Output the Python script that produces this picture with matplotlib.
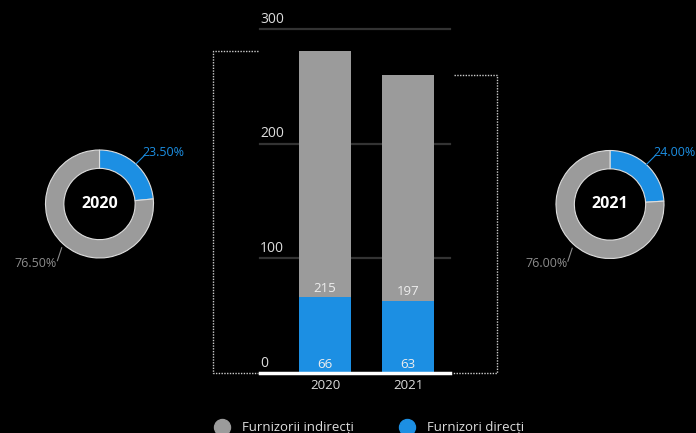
import matplotlib.pyplot as plt
import matplotlib.transforms as mtransforms
from matplotlib.lines import Line2D

plt.rcParams['font.family'] = ['Open Sans', 'DejaVu Sans']

years = ['2020', '2021']
direct = [66, 63]
indirect = [215, 197]
share_direct = [23.50, 24.00]
share_indirect = [76.50, 76.00]
y_ticks = [0, 100, 200, 300]
series_names = ['Furnizorii indirecți', 'Furnizori direcți']

BLUE = '#1c8fe3'
GREY = '#9b9b9b'
TEXT = '#dddddd'

W, H = 696, 433
fig = plt.figure(figsize=(W / 100, H / 100), dpi=100, facecolor='black')


def px_box(x0, y0, x1, y1):
    # pixel box (top-left origin) -> figure fraction rect
    return [x0 / W, 1 - y1 / H, (x1 - x0) / W, (y1 - y0) / H]


# stacked bars
ax = fig.add_axes(px_box(260, 29, 450, 373))
ax.set_facecolor('black')
xs = range(len(years))
ax.bar(xs, direct, width=0.627, color=BLUE, zorder=3)
ax.bar(xs, indirect, bottom=direct, width=0.627, color=GREY, zorder=3)
ax.set_xlim(-0.783, 1.506)
ax.set_ylim(0, 300)
for s in ax.spines.values():
    s.set_visible(False)
ax.set_yticks([])
ax.set_xticks(list(xs))
ax.set_xticklabels(years, color=TEXT, fontsize=9.5)
ax.tick_params(axis='x', length=0, pad=4)

for v in y_ticks:
    if v == 0:
        ax.axhline(v, color='white', lw=2.5, zorder=4, clip_on=False)
    else:
        ax.axhline(v, color='#333333', lw=1.6, zorder=1, clip_on=False)
    ax.text(-0.783, v + 2, str(v), color=TEXT, fontsize=10, ha='left', va='bottom')

for i in xs:
    ax.text(i, 2, str(direct[i]), color='#eeeeee', fontsize=9.5, ha='center', va='bottom', zorder=5)
    ax.text(i, direct[i] + 2, str(indirect[i]), color='#eeeeee', fontsize=9.5,
            ha='center', va='bottom', zorder=5)

# dotted brackets tying each bar total to its donut
trans = mtransforms.blended_transform_factory(ax.transAxes, ax.transData)
tot = [d + n for d, n in zip(direct, indirect)]
ax.plot([-0.0105, -0.247, -0.247, -0.0105], [tot[0], tot[0], 0, 0], transform=trans,
        color='#cccccc', ls=(0, (1, 1)), lw=1, clip_on=False)
ax.plot([1.02, 1.247, 1.247, 1.011], [tot[1], tot[1], 0, 0], transform=trans,
        color='#cccccc', ls=(0, (1, 1)), lw=1, clip_on=False)

# donuts
centers = [(99.5, 204), (610, 204.5)]
R = 54
for k, (cx, cy) in enumerate(centers):
    dax = fig.add_axes(px_box(cx - R, cy - R, cx + R, cy + R))
    dax.pie([share_direct[k], share_indirect[k]], colors=[BLUE, GREY], startangle=90,
            counterclock=False, radius=1,
            wedgeprops=dict(width=0.34, edgecolor='#dddddd', linewidth=0.8))
    dax.set_xlim(-1, 1)
    dax.set_ylim(-1, 1)
    dax.set_aspect('equal')
    dax.axis('off')
    dax.text(0, 0, years[k], color='white', fontsize=11.5, fontweight='bold',
             ha='center', va='center')
    dax.plot([0.673, 0.84], [0.74, 0.907], color=BLUE, lw=0.8, clip_on=False)
    dax.text(0.8, 0.96, f'{share_direct[k]:.2f}%', color=BLUE, fontsize=9,
             ha='left', va='center')
    dax.plot([-0.70, -0.78], [-0.81, -1.05], color='#8c8c8c', lw=0.8, clip_on=False)
    dax.text(-0.79, -1.1, f'{share_indirect[k]:.2f}%', color='#8c8c8c', fontsize=9,
             ha='right', va='center')

# heading, mostly above the canvas
fig.text(31 / W, 1 + 2.5 / H, '(Număr total, pe categorii)', color=TEXT, fontsize=9.5,
         ha='left', va='baseline')

handles = [Line2D([], [], ls='none', marker='o', markersize=11.5, color=GREY),
           Line2D([], [], ls='none', marker='o', markersize=11.5, color=BLUE)]
leg = fig.legend(handles, series_names, loc='center left',
                 bbox_to_anchor=(215.5 / W, 1 - 428 / H), ncol=2, frameon=False,
                 fontsize=9.5, handlelength=1.0, handletextpad=1.0, columnspacing=3.55,
                 borderpad=0, borderaxespad=0)
for t in leg.get_texts():
    t.set_color(TEXT)

fig.savefig('out.png', dpi=100, facecolor='black')
